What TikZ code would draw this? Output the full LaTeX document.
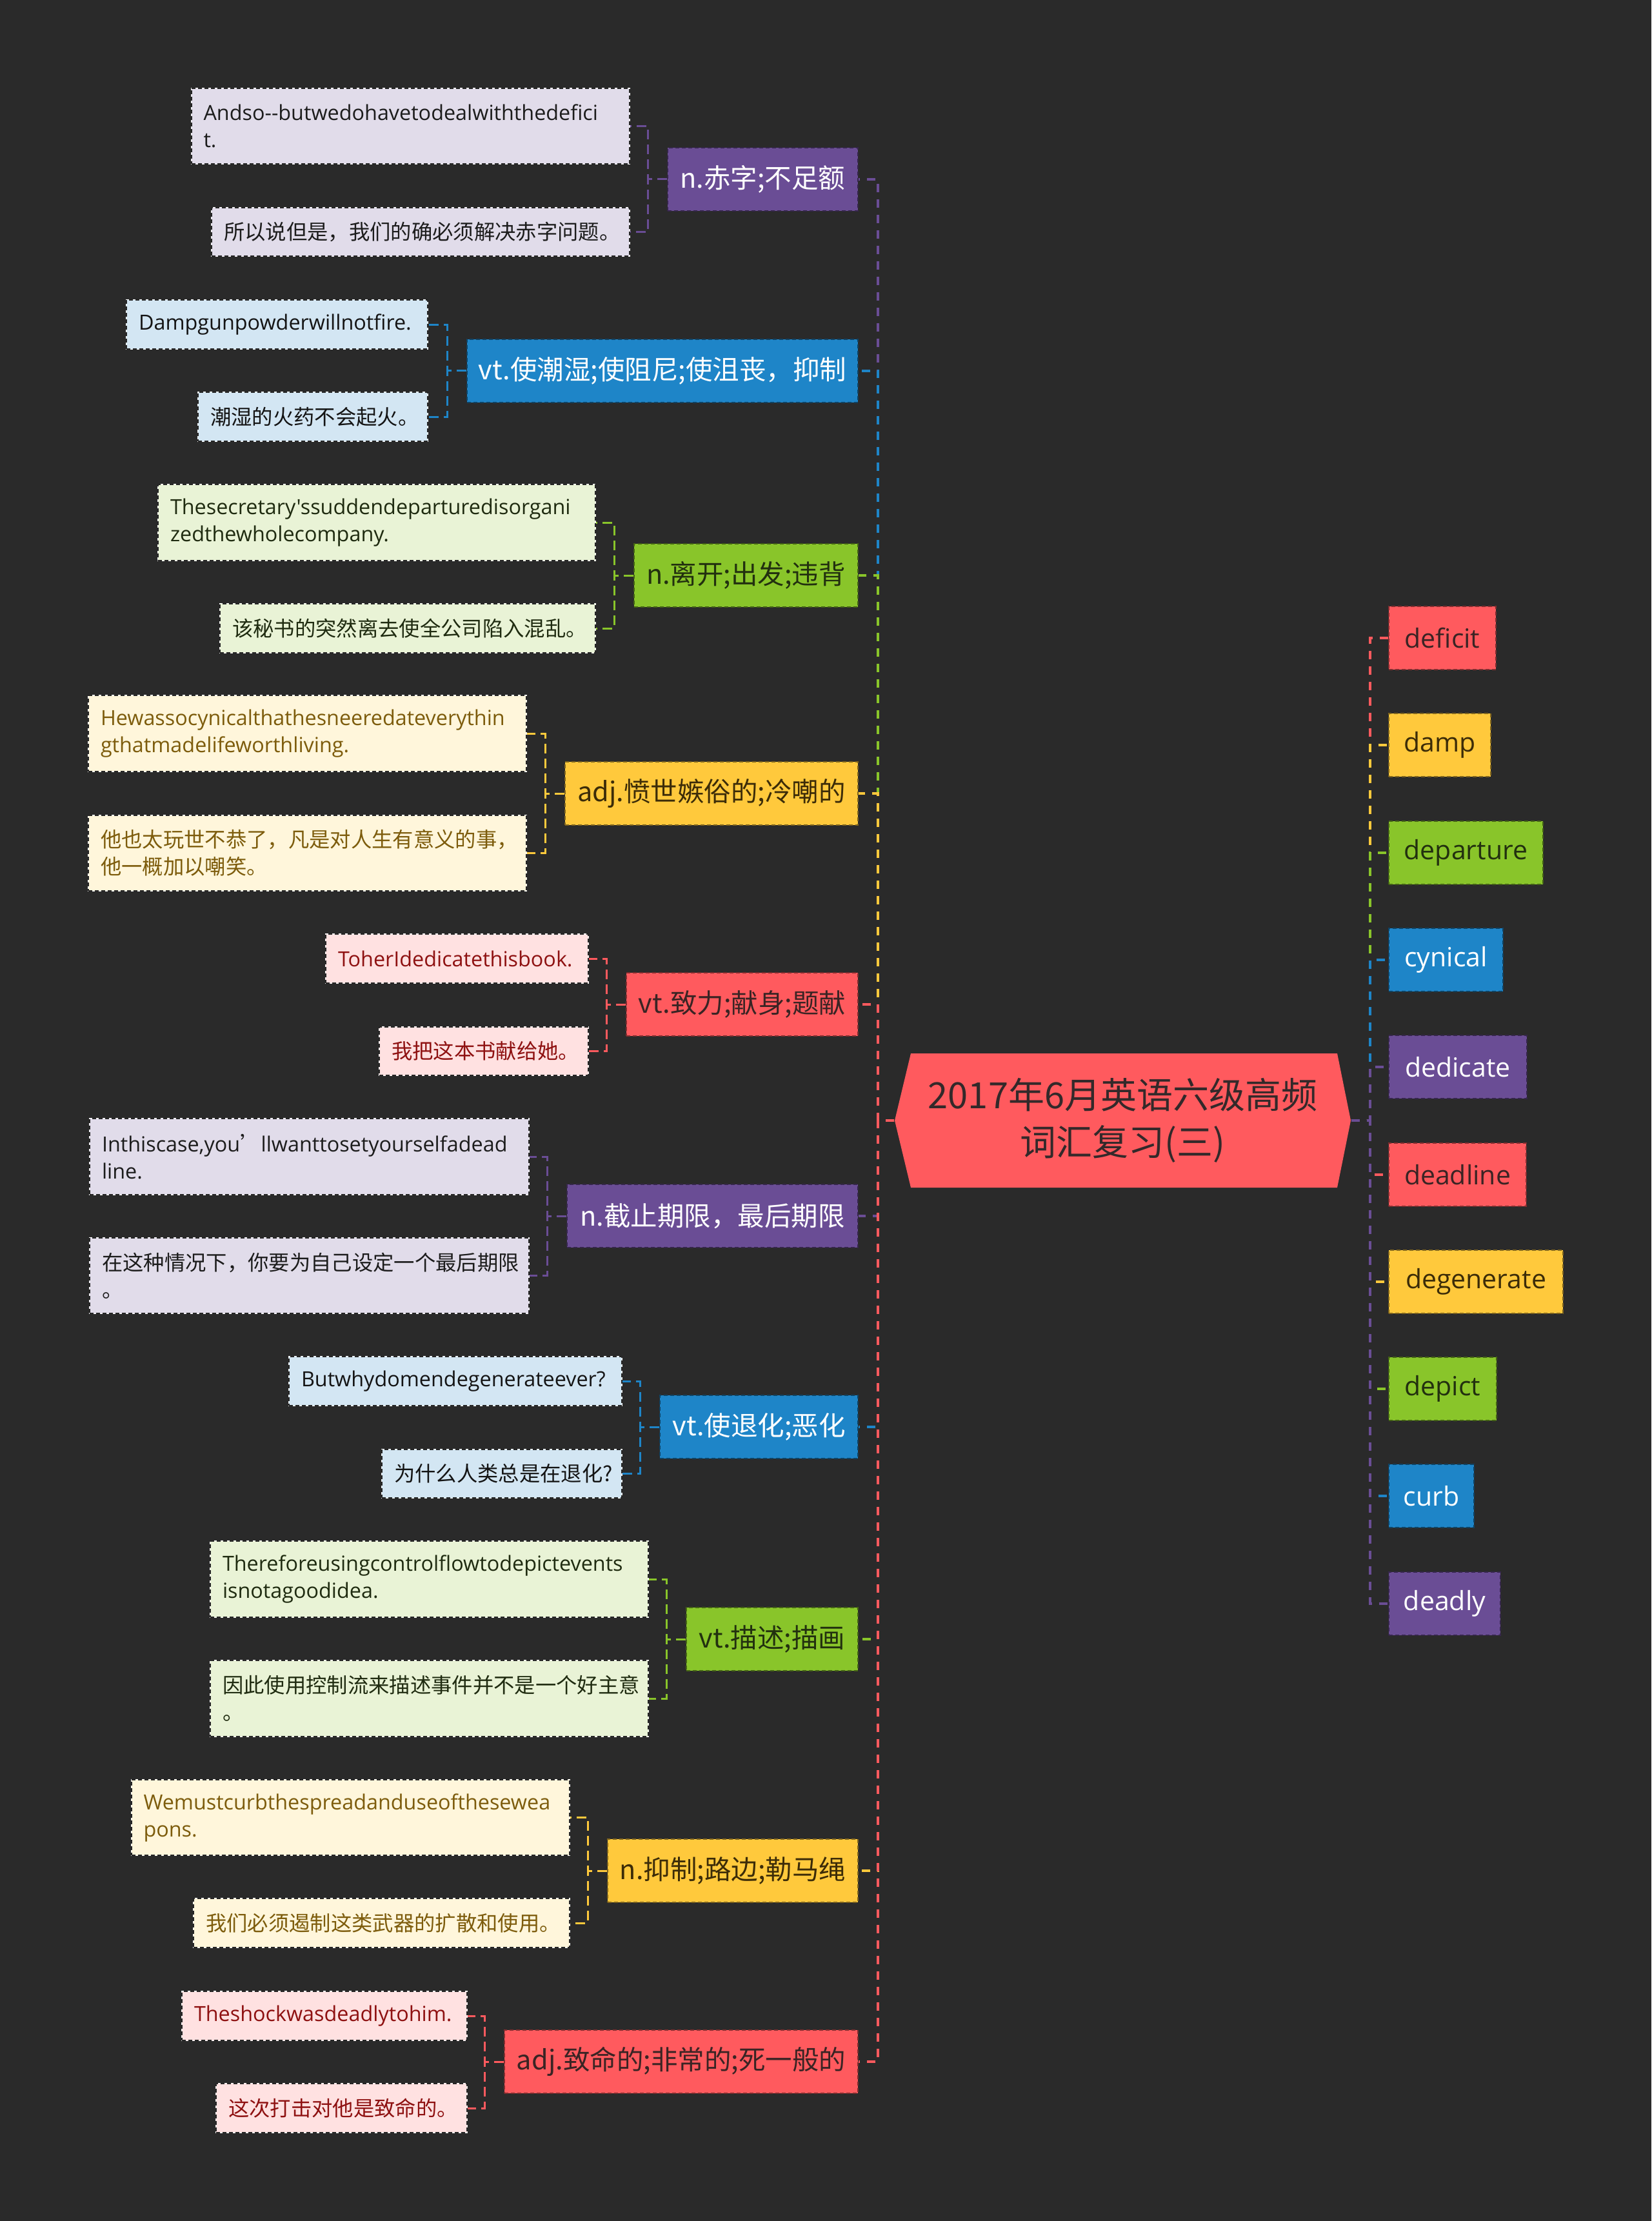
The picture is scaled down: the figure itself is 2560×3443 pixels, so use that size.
\documentclass[tikz,border=0pt]{standalone}
\usepackage{fontspec}
\setmainfont{Open Sans}[Ligatures=TeXOff]
\newfontfamily\cjk{Noto Sans CJK SC}
\definecolor{bg}{HTML}{2A2A2A}
\definecolor{cP}{HTML}{6A4D95}
\definecolor{cB}{HTML}{1E85C8}
\definecolor{cG}{HTML}{89C52A}
\definecolor{cY}{HTML}{FFC93C}
\definecolor{cR}{HTML}{FF5A5E}
\definecolor{lP}{HTML}{E1DCEA}
\definecolor{lB}{HTML}{D3E6F3}
\definecolor{lG}{HTML}{E9F3D6}
\definecolor{lY}{HTML}{FFF6DB}
\definecolor{lR}{HTML}{FFE1E1}
\definecolor{tG}{HTML}{22300F}
\definecolor{tY}{HTML}{3C2C08}
\definecolor{tR}{HTML}{3A2424}
\definecolor{ltP}{HTML}{1C1C1C}
\definecolor{ltB}{HTML}{141414}
\definecolor{ltG}{HTML}{1F2B10}
\definecolor{ltY}{HTML}{7D5C0C}
\definecolor{ltR}{HTML}{8E1111}
\definecolor{tC}{HTML}{33292A}
\tikzset{
  boxdash/.style={line width=0.6pt, dash pattern=on 1.8pt off 1.2pt},
  mainbox/.style={rectangle, anchor=east, minimum height=29.4pt, inner sep=0pt, boxdash,
    font=\cjk\fontsize{12.45}{15}\selectfont},
  wordbox/.style={rectangle, anchor=west, minimum height=29.4pt, inner sep=0pt, boxdash,
    font=\fontsize{12.3}{15}\selectfont},
  mP/.style={fill=cP, draw=cP!50!black, text=white},
  mB/.style={fill=cB, draw=cB!50!black, text=white},
  mG/.style={fill=cG, draw=cG!50!black, text=tG},
  mY/.style={fill=cY, draw=cY!50!black, text=tY},
  mR/.style={fill=cR, draw=cR!50!black, text=tR},
  leafbox/.style={rectangle, anchor=east, inner xsep=5.7pt, inner ysep=0pt, align=left,
    draw=black!85, boxdash, preaction={draw=white, solid, line width=0.6pt}},
  en/.style={font=\fontsize{9.7}{12.6}\selectfont},
  zh/.style={font=\cjk\fontsize{9.7}{12.6}\selectfont},
  two/.style={minimum height=35.25pt},
  one/.style={minimum height=22.7pt},
  lfP/.style={leafbox, fill=lP, text=ltP},
  lfB/.style={leafbox, fill=lB, text=ltB},
  lfG/.style={leafbox, fill=lG, text=ltG},
  lfY/.style={leafbox, fill=lY, text=ltY},
  lfR/.style={leafbox, fill=lR, text=ltR},
  spine/.style={line width=1.2pt, dash pattern=on 3.9pt off 3.3pt},
  brk/.style={line width=0.9pt, dash pattern=on 4.5pt off 2.4pt},
  centralbox/.style={rectangle, minimum width=212.1pt, minimum height=62.4pt, inner sep=0pt,
    align=center, text=tC, font=\cjk\fontsize{16.8}{21.9}\selectfont}
}
\begin{document}
\begin{tikzpicture}[x=0.3pt,y=-0.3pt]
\fill[bg] (0,0) rectangle (2560,3443);
\useasboundingbox (0,0) rectangle (2560,3443);

% central
\fill[cR] (1387,1737) -- (1412,1633) -- (2073,1633) -- (2094,1737) -- (2073,1841) -- (1412,1841) -- cycle;
\node[centralbox] (c) at (1740.5,1737) {2017年6月英语六级高频\\词汇复习(三)};

% main (left) nodes
\node[mainbox, mP, minimum width=88.5pt]  (m1)  at (1331,278)   {n.赤字;不足额};
\node[mainbox, mB, minimum width=181.8pt] (m2)  at (1331,574.5) {vt.使潮湿;使阻尼;使沮丧，抑制};
\node[mainbox, mG, minimum width=104.1pt] (m3)  at (1331,892)   {n.离开;出发;违背};
\node[mainbox, mY, minimum width=136.2pt] (m4)  at (1331,1230)  {adj.愤世嫉俗的;冷嘲的};
\node[mainbox, mR, minimum width=107.7pt] (m5)  at (1331,1557)  {vt.致力;献身;题献};
\node[mainbox, mP, minimum width=135.3pt] (m6)  at (1331,1885)  {n.截止期限，最后期限};
\node[mainbox, mB, minimum width=92.1pt]  (m7)  at (1331,2212)  {vt.使退化;恶化};
\node[mainbox, mG, minimum width=79.8pt]  (m8)  at (1331,2541)  {vt.描述;描画};
\node[mainbox, mY, minimum width=116.4pt] (m9)  at (1331,2900)  {n.抑制;路边;勒马绳};
\node[mainbox, mR, minimum width=164.4pt] (m10) at (1331,3196)  {adj.致命的;非常的;死一般的};

% word (right) nodes
\node[wordbox, mR, minimum width=49.8pt] (w1)  at (2152,989)  {deficit};
\node[wordbox, mY, minimum width=47.4pt] (w2)  at (2152,1155) {damp};
\node[wordbox, mG, minimum width=71.7pt] (w3)  at (2152,1322) {departure};
\node[wordbox, mB, minimum width=53.1pt] (w4)  at (2152,1488) {cynical};
\node[wordbox, mP, minimum width=64.2pt] (w5)  at (2152,1654) {dedicate};
\node[wordbox, mR, minimum width=63.9pt] (w6)  at (2152,1821) {deadline};
\node[wordbox, mY, minimum width=81pt]   (w7)  at (2152,1987) {degenerate};
\node[wordbox, mG, minimum width=50.1pt] (w8)  at (2152,2153) {depict};
\node[wordbox, mB, minimum width=39.6pt] (w9)  at (2152,2319) {curb};
\node[wordbox, mP, minimum width=51.9pt] (w10) at (2152,2486) {deadly};

% leaves
\node[lfP, en, two, text width=192.45pt] (l1a) at (977,195.5) {Andso--butwedohavetodealwiththedefici\\t.};
\node[lfP, zh, one, text width=183pt] (l1b) at (977,359.5) {所以说但是，我们的确必须解决赤字问题。};
\node[lfB, en, one, text width=128.7pt] (l2a) at (664,503) {Dampgunpowderwillnotfire.};
\node[lfB, zh, one, text width=95.4pt] (l2b) at (664,646) {潮湿的火药不会起火。};
\node[lfG, en, two, text width=192pt] (l3a) at (924,810) {Thesecretary'ssuddendeparturedisorgani\\zedthewholecompany.};
\node[lfG, zh, one, text width=163.2pt] (l3b) at (924,974) {该秘书的突然离去使全公司陷入混乱。};
\node[lfY, en, two, text width=192.3pt] (l4a) at (817,1137) {Hewassocynicalthathesneeredateverythin\\gthatmadelifeworthliving.};
\node[lfY, zh, two, text width=192.3pt] (l4b) at (817,1322.5) {他也太玩世不恭了，凡是对人生有意义的事，\\他一概加以嘲笑。};
\node[lfR, en, one, text width=110.7pt] (l5a) at (913,1486) {ToherIdedicatethisbook.};
\node[lfR, zh, one, text width=85.8pt] (l5b) at (913,1629.5) {我把这本书献给她。};
\node[lfP, en, two, text width=192.9pt] (l6a) at (821,1793) {Inthiscase,you{\cjk ’}llwanttosetyourselfadead\\line.};
\node[lfP, zh, two, text width=192.9pt] (l6b) at (821,1977.5) {在这种情况下，你要为自己设定一个最后期限\\。};
\node[lfB, en, one, text width=143.4pt] (l7a) at (965,2141) {Butwhydomendegenerateever?};
\node[lfB, zh, one, text width=100.2pt] (l7b) at (965,2284.5) {为什么人类总是在退化?};
\node[lfG, en, two, text width=192.3pt] (l8a) at (1006,2448) {Thereforeusingcontrolflowtodepictevents\\isnotagoodidea.};
\node[lfG, zh, two, text width=192.3pt] (l8b) at (1006,2633) {因此使用控制流来描述事件并不是一个好主意\\。};
\node[lfY, en, two, text width=192.45pt] (l9a) at (884,2817.5) {Wemustcurbthespreadanduseofthesewea\\pons.};
\node[lfY, zh, one, text width=163.5pt] (l9b) at (884,2981) {我们必须遏制这类武器的扩散和使用。};
\node[lfR, en, one, text width=121.05pt] (l10a) at (724.5,3125) {Theshockwasdeadlytohim.};
\node[lfR, zh, one, text width=105.15pt] (l10b) at (724.5,3268) {这次打击对他是致命的。};

% spine connectors (left)
\draw[spine, cP] (c.west) -- ++(-25,0) |- (m1.east);
\draw[spine, cB] (c.west) -- ++(-25,0) |- (m2.east);
\draw[spine, cG] (c.west) -- ++(-25,0) |- (m3.east);
\draw[spine, cY] (c.west) -- ++(-25,0) |- (m4.east);
\draw[spine, cR] (c.west) -- ++(-25,0) |- (m5.east);
\draw[spine, cP] (c.west) -- ++(-25,0) |- (m6.east);
\draw[spine, cB] (c.west) -- ++(-25,0) |- (m7.east);
\draw[spine, cG] (c.west) -- ++(-25,0) |- (m8.east);
\draw[spine, cY] (c.west) -- ++(-25,0) |- (m9.east);
\draw[spine, cR] (c.west) -- ++(-25,0) |- (m10.east);

% spine connectors (right)
\draw[spine, cR] (c.east) -- ++(29,0) |- (w1.west);
\draw[spine, cY] (c.east) -- ++(29,0) |- (w2.west);
\draw[spine, cG] (c.east) -- ++(29,0) |- (w3.west);
\draw[spine, cB] (c.east) -- ++(29,0) |- (w4.west);
\draw[spine, cP] (c.east) -- ++(29,0) |- (w5.west);
\draw[spine, cR] (c.east) -- ++(29,0) |- (w6.west);
\draw[spine, cY] (c.east) -- ++(29,0) |- (w7.west);
\draw[spine, cG] (c.east) -- ++(29,0) |- (w8.west);
\draw[spine, cB] (c.east) -- ++(29,0) |- (w9.west);
\draw[spine, cP] (c.east) -- ++(29,0) |- (w10.west);

% brackets
\draw[brk, cP] (m1.west) -- ++(-30,0) |- (l1a.east);
\draw[brk, cP] (m1.west) -- ++(-30,0) |- (l1b.east);
\draw[brk, cB] (m2.west) -- ++(-30,0) |- (l2a.east);
\draw[brk, cB] (m2.west) -- ++(-30,0) |- (l2b.east);
\draw[brk, cG] (m3.west) -- ++(-30,0) |- (l3a.east);
\draw[brk, cG] (m3.west) -- ++(-30,0) |- (l3b.east);
\draw[brk, cY] (m4.west) -- ++(-30,0) |- (l4a.east);
\draw[brk, cY] (m4.west) -- ++(-30,0) |- (l4b.east);
\draw[brk, cR] (m5.west) -- ++(-30,0) |- (l5a.east);
\draw[brk, cR] (m5.west) -- ++(-30,0) |- (l5b.east);
\draw[brk, cP] (m6.west) -- ++(-30,0) |- (l6a.east);
\draw[brk, cP] (m6.west) -- ++(-30,0) |- (l6b.east);
\draw[brk, cB] (m7.west) -- ++(-30,0) |- (l7a.east);
\draw[brk, cB] (m7.west) -- ++(-30,0) |- (l7b.east);
\draw[brk, cG] (m8.west) -- ++(-30,0) |- (l8a.east);
\draw[brk, cG] (m8.west) -- ++(-30,0) |- (l8b.east);
\draw[brk, cY] (m9.west) -- ++(-30,0) |- (l9a.east);
\draw[brk, cY] (m9.west) -- ++(-30,0) |- (l9b.east);
\draw[brk, cR] (m10.west) -- ++(-30,0) |- (l10a.east);
\draw[brk, cR] (m10.west) -- ++(-30,0) |- (l10b.east);
\end{tikzpicture}
\end{document}
